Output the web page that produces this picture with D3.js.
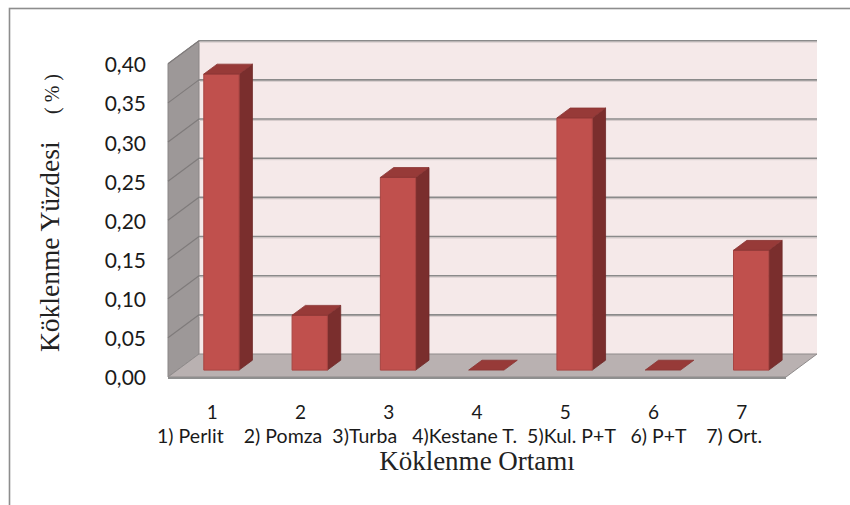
<!DOCTYPE html>
<html>
<head>
<meta charset="utf-8">
<script src="https://cdn.jsdelivr.net/npm/d3@7"></script>
<style>
  html, body { margin: 0; padding: 0; background: #fff; }
  svg { display: block; }
</style>
</head>
<body>
<svg id="chart" width="850" height="505"></svg>
<script>
// Rooting percentage per rooting medium
const categories = ["1", "2", "3", "4", "5", "6", "7"];
const mediumNames = ["1) Perlit", "2) Pomza", "3)Turba", "4)Kestane T.", "5)Kul. P+T", "6) P+T", "7) Ort."];
const rootingPct = [0.378, 0.070, 0.246, 0.0, 0.322, 0.0, 0.153];
const yTicks = [0, 0.05, 0.10, 0.15, 0.20, 0.25, 0.30, 0.35, 0.40];
const yTitle = "Köklenme Yüzdesi";
const yUnit = "( % )";
const xTitle = "Köklenme Ortamı";

const svg = d3.select("#chart");

// 3D box: back wall rectangle plus an oblique depth offset toward the viewer
const wall = { left: 199, right: 817, floor: 354, top: 40.7 };
const depth = { dx: -31, dy: 23 };
const barFront = 0.70, barBack = 0.27;   // depth fractions (0 = back wall, 1 = front edge)

const x = d3.scaleBand().domain(categories).range([wall.left, wall.right]);
const y = d3.scaleLinear().domain([0, 0.40]).range([wall.floor, wall.top]);
const yFront = y.copy().range([wall.floor + depth.dy, wall.top + depth.dy]);
const xFront = x.copy().range([wall.left + depth.dx, wall.right + depth.dx]);

const P = (px, v, d) => [px + depth.dx * d, y(v) + depth.dy * d];
const poly = pts => "M" + pts.map(p => p.join(",")).join("L") + "Z";

// outer frame
svg.append("rect")
  .attr("x", 9.5).attr("y", 8.5).attr("width", 900).attr("height", 600)
  .attr("fill", "none").attr("stroke", "#8d8d8d").attr("stroke-width", 1.6);

const plot = svg.append("g");

// back wall
plot.append("rect")
  .attr("x", wall.left).attr("y", y(0.40))
  .attr("width", wall.right - wall.left).attr("height", y(0) - y(0.40))
  .attr("fill", "#f5e9e9");

// side wall
plot.append("path")
  .attr("d", poly([P(wall.left, 0, 0), P(wall.left, 0.40, 0), P(wall.left, 0.40, 1), P(wall.left, 0, 1)]))
  .attr("fill", "#9d9898").attr("stroke", "#8a8686").attr("stroke-width", 1);

// floor
plot.append("path")
  .attr("d", poly([P(wall.left, 0, 0), P(wall.right, 0, 0), P(wall.right, 0, 1), P(wall.left, 0, 1)]))
  .attr("fill", "#b9b1b1").attr("stroke", "#8f8b8b").attr("stroke-width", 1);
plot.append("line")
  .attr("x1", P(wall.left, 0, 1)[0]).attr("x2", P(wall.right, 0, 1)[0])
  .attr("y1", P(wall.left, 0, 1)[1] + 1).attr("y2", P(wall.right, 0, 1)[1] + 1)
  .attr("stroke", "#8f8f8f").attr("stroke-width", 2);

// gridlines on back and side walls
const grid = plot.append("g");
yTicks.filter(t => t > 0).forEach(t => {
  grid.append("line")
    .attr("x1", wall.left).attr("x2", wall.right)
    .attr("y1", y(t) + 1.5).attr("y2", y(t) + 1.5)
    .attr("stroke", "#d6cccc").attr("stroke-width", 1);
  grid.append("line")
    .attr("x1", wall.left).attr("x2", wall.right)
    .attr("y1", y(t)).attr("y2", y(t))
    .attr("stroke", "#8a8a8a").attr("stroke-width", 1.6);
  const a = P(wall.left, t, 0), b = P(wall.left, t, 1);
  grid.append("line")
    .attr("x1", a[0]).attr("y1", a[1]).attr("x2", b[0]).attr("y2", b[1])
    .attr("stroke", "#7f7b7b").attr("stroke-width", 1.2);
});

// bars
const barW = x.bandwidth() * 0.40;
const bars = plot.selectAll("g.bar")
  .data(categories.map((c, i) => ({ c, v: rootingPct[i] })))
  .join("g").attr("class", "bar");

bars.each(function (d) {
  const g = d3.select(this);
  const xl = x(d.c) + (x.bandwidth() - barW) / 2;
  const xr = xl + barW;
  if (d.v > 0) {
    g.append("path")
      .attr("d", poly([P(xr, 0, barFront), P(xr, 0, barBack), P(xr, d.v, barBack), P(xr, d.v, barFront)]))
      .attr("fill", "#7a2e2d").attr("stroke", "#6e2928").attr("stroke-width", 0.8);
    g.append("path")
      .attr("d", poly([P(xl, 0, barFront), P(xr, 0, barFront), P(xr, d.v, barFront), P(xl, d.v, barFront)]))
      .attr("fill", "#c0504d").attr("stroke", "#a84542").attr("stroke-width", 1);
  }
  g.append("path")
    .attr("d", poly([P(xl, d.v, barFront), P(xr, d.v, barFront), P(xr, d.v, barBack), P(xl, d.v, barBack)]))
    .attr("fill", "#973a38").attr("stroke", "#8a3533").attr("stroke-width", 0.8);
});

// value axis labels along the front edge
const yAxis = d3.axisLeft(yFront)
  .tickValues(yTicks)
  .tickFormat(v => v.toFixed(2).replace(".", ","))
  .tickSize(0).tickPadding(22);
const ya = svg.append("g")
  .attr("transform", `translate(${wall.left + depth.dx},0)`)
  .call(yAxis);
ya.select(".domain").remove();
ya.selectAll("text")
  .attr("font-family", "Lato, 'Open Sans', sans-serif")
  .attr("font-size", 21).attr("fill", "#1a1a1a").attr("dy", "0.38em");

// category numbers
const xAxis = d3.axisBottom(xFront).tickSize(0).tickPadding(0);
const xa = svg.append("g")
  .attr("transform", `translate(0,${wall.floor + depth.dy})`)
  .call(xAxis);
xa.select(".domain").remove();
xa.selectAll("text")
  .attr("font-family", "Lato, 'Open Sans', sans-serif")
  .attr("font-size", 19).attr("fill", "#1a1a1a")
  .attr("dy", null).attr("y", 42);

// medium names line
svg.append("text")
  .attr("x", 157).attr("y", 443)
  .attr("xml:space", "preserve").style("white-space", "pre")
  .attr("font-family", "Lato, 'Open Sans', sans-serif")
  .attr("font-size", 19.5).attr("fill", "#1a1a1a")
  .attr("textLength", 605).attr("lengthAdjust", "spacing")
  .text(mediumNames[0] + "    " + mediumNames[1] + "  " + mediumNames[2] + "   " +
        mediumNames[3] + "  " + mediumNames[4] + "   " + mediumNames[5] + "    " + mediumNames[6]);

// axis titles
svg.append("text")
  .attr("x", 477).attr("y", 470).attr("text-anchor", "middle")
  .attr("font-family", "'Liberation Serif', 'Times New Roman', serif")
  .attr("font-size", 27).attr("fill", "#222")
  .text(xTitle);

const yt = svg.append("text")
  .attr("transform", "translate(59,352) rotate(-90)")
  .attr("xml:space", "preserve").style("white-space", "pre")
  .attr("font-family", "'Liberation Serif', 'Times New Roman', serif")
  .attr("font-size", 27.5).attr("fill", "#222");
yt.append("tspan").text(yTitle + "    ");
yt.append("tspan").attr("font-size", 20).text(yUnit);
</script>
</body>
</html>
